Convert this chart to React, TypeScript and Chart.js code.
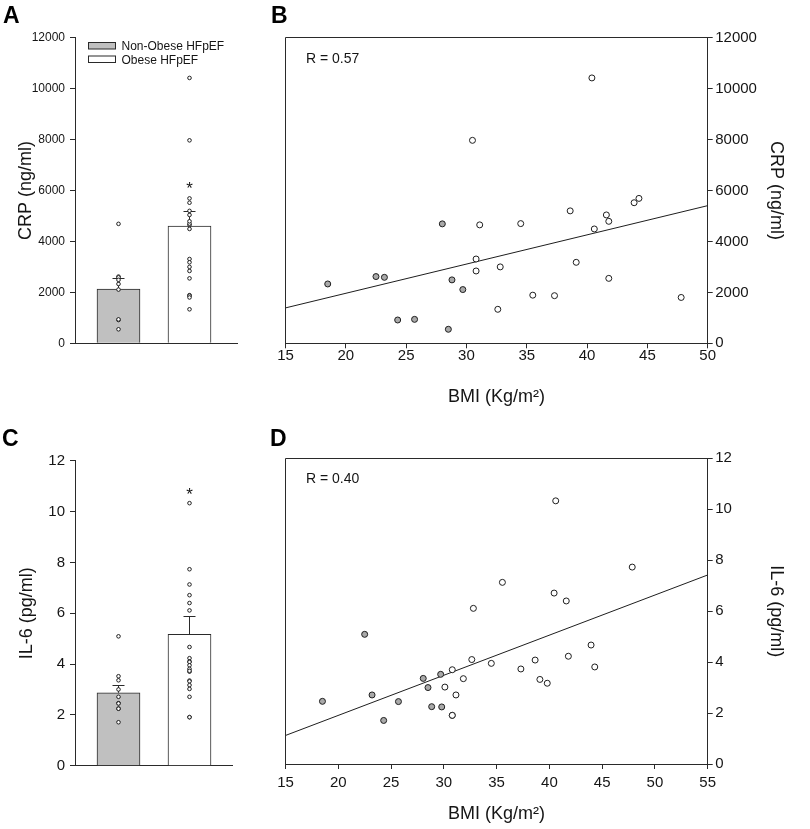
import React, { useEffect, useRef } from 'react';
import { Chart, registerables } from 'chart.js';

Chart.register(...registerables);

const PAGE_W = 810;
const PAGE_H = 829;
const FONT = "'Liberation Sans', Arial, Helvetica, sans-serif";
const INK = '#2a2a2a';
const TEXT = '#151515';

// ---------------- data ----------------
const groupNames = ['Non-Obese HFpEF', 'Obese HFpEF'];
const groupFills = ['#c0c0c0', '#ffffff'];
const pointGray = '#a9a9a9';

const crpTickValues = [0, 2000, 4000, 6000, 8000, 10000, 12000];
const il6TickValues = [0, 2, 4, 6, 8, 10, 12];
const bmiTicksCrp = [15, 20, 25, 30, 35, 40, 45, 50];
const bmiTicksIl6 = [15, 20, 25, 30, 35, 40, 45, 50, 55];

const crpMean = [2130, 4600];
const crpSemTop = [2570, 5200];
const crpStar = 6250;

const il6Mean = [2.87, 5.17];
const il6SemTop = [3.17, 5.9];
const il6Star = 10.85;

// Panel B (and dots in panel A)
const bmiCrpNonObese = [18.5, 22.5, 23.2, 24.3, 25.7, 28.0, 28.5, 28.8, 29.7];
const crpNonObese = [2330, 2620, 2590, 915, 940, 4690, 550, 2490, 2110];
const bmiCrpObese = [30.5, 30.8, 30.8, 31.1, 32.6, 32.8, 34.5, 35.5, 37.3, 38.6, 39.1, 40.4, 40.6, 41.6, 41.8, 41.8, 43.9, 44.3, 47.8];
const crpObese = [7970, 3310, 2840, 4650, 1335, 3000, 4700, 1890, 1870, 5200, 3180, 10420, 4490, 5040, 4790, 2550, 5520, 5690, 1800];

// Panel D (and dots in panel C)
const bmiIl6NonObese = [18.5, 22.5, 23.2, 24.3, 25.7, 28.05, 28.5, 28.85, 29.7, 29.8];
const il6NonObese = [2.46, 5.09, 2.71, 1.71, 2.45, 3.36, 3.0, 2.25, 3.52, 2.24];
const bmiIl6Obese = [40.6, 47.85, 35.55, 40.45, 41.6, 32.8, 43.95, 41.8, 32.65, 38.65, 34.5, 44.3, 30.8, 37.3, 31.85, 39.1, 39.8, 30.1, 31.15, 30.8, 30.8];
const il6Obese = [10.33, 7.73, 7.13, 6.71, 6.4, 6.11, 4.67, 4.23, 4.1, 4.08, 3.95, 3.81, 3.7, 3.73, 3.35, 3.32, 3.17, 3.02, 2.71, 1.91, 1.91];

const crpFitBmi = [15, 50];
const crpFitValue = [1390, 5405];
const il6FitBmi = [15, 55];
const il6FitValue = [1.12, 7.42];

const crpR = 'R = 0.57';
const il6R = 'R = 0.40';

// ---------------- helpers ----------------
type Area = { left: number; right: number; top: number; bottom: number };

const plainTick = (v: any) => String(v);

function drawLetter(ctx: CanvasRenderingContext2D, letter: string, x: number, y: number) {
  ctx.save();
  ctx.fillStyle = '#000';
  ctx.font = `bold 23px ${FONT}`;
  ctx.textAlign = 'left';
  ctx.textBaseline = 'alphabetic';
  ctx.fillText(letter, x, y);
  ctx.restore();
}

function barConfig(o: {
  area: Area;
  means: number[];
  semTop: number[];
  gray: number[];
  white: number[];
  ticks: number[];
  title: string;
  tickSize: number;
  titleCenterX: number;
  star: number;
  letter: string;
  letterPos: [number, number];
  legend: boolean;
}): any {
  const { area } = o;
  const barW = 43;
  const unit = 71;
  const xMin = -(43.5 / unit);
  const xMax = 1 + (area.right - area.left - 43.5 - unit) / unit;
  const yAxisW = area.left;
  const xAxisH = 10;
  const dots = [
    ...o.gray.map((v) => ({ x: 0, y: v })),
    ...o.white.map((v) => ({ x: 1, y: v })),
  ];
  const plugin = {
    id: 'decor',
    beforeDatasetsDraw(chart: any) {
      const ctx = chart.ctx as CanvasRenderingContext2D;
      const xs = chart.scales.x;
      const ys = chart.scales.y;
      ctx.save();
      ctx.strokeStyle = INK;
      ctx.lineWidth = 1;
      o.means.forEach((m, i) => {
        const cx = Math.floor(xs.getPixelForValue(i)) + 0.5;
        const y0 = ys.getPixelForValue(m);
        const y1 = Math.round(ys.getPixelForValue(o.semTop[i])) + 0.5;
        ctx.beginPath();
        ctx.moveTo(cx, y0);
        ctx.lineTo(cx, y1);
        ctx.moveTo(cx - 6, y1);
        ctx.lineTo(cx + 6, y1);
        ctx.stroke();
      });
      ctx.restore();
    },
    afterDraw(chart: any) {
      const ctx = chart.ctx as CanvasRenderingContext2D;
      const xs = chart.scales.x;
      const ys = chart.scales.y;
      const ca = chart.chartArea;
      ctx.save();
      ctx.fillStyle = TEXT;
      ctx.font = `17px ${FONT}`;
      ctx.textAlign = 'center';
      ctx.textBaseline = 'alphabetic';
      ctx.fillText('*', xs.getPixelForValue(1), ys.getPixelForValue(o.star) + 0.58 * 17);
      ctx.restore();
      if (o.legend) {
        ctx.save();
        const bx = Math.round(ca.left + 12.5) + 0.5;
        const rows = [42.5, 56];
        rows.forEach((ry, i) => {
          ctx.fillStyle = groupFills[i];
          ctx.fillRect(bx, ry, 27, 6.5);
          ctx.strokeStyle = INK;
          ctx.lineWidth = 1;
          ctx.strokeRect(bx, ry, 27, 6.5);
          ctx.fillStyle = TEXT;
          ctx.font = `12px ${FONT}`;
          ctx.textAlign = 'left';
          ctx.textBaseline = 'alphabetic';
          ctx.fillText(groupNames[i], bx + 33, ry + 3.3 + 4.3);
        });
        ctx.restore();
      }
      drawLetter(ctx, o.letter, o.letterPos[0], o.letterPos[1]);
    },
  };
  return {
    type: 'bar',
    data: {
      datasets: [
        {
          type: 'scatter',
          data: dots,
          pointRadius: 1.8,
          pointBackgroundColor: '#ffffff',
          pointBorderColor: '#1e1e1e',
          pointBorderWidth: 1,
          order: 0,
        },
        {
          type: 'bar',
          data: o.means.map((m, i) => ({ x: i, y: m })),
          backgroundColor: groupFills,
          borderColor: INK,
          borderWidth: 1,
          barThickness: barW,
          order: 1,
        },
      ],
    },
    options: {
      responsive: false,
      animation: false,
      events: [],
      layout: {
        autoPadding: false,
        padding: {
          left: area.left - yAxisW,
          top: area.top,
          right: PAGE_W - area.right,
          bottom: PAGE_H - area.bottom - xAxisH,
        },
      },
      plugins: { legend: { display: false }, tooltip: { enabled: false } },
      scales: {
        x: {
          type: 'linear',
          min: xMin,
          max: xMax,
          offset: false,
          ticks: { display: false },
          grid: { display: false },
          border: { display: true, color: INK, width: 1 },
          afterFit: (s: any) => {
            s.height = xAxisH;
            s.paddingLeft = 0;
            s.paddingRight = 0;
          },
        },
        y: {
          type: 'linear',
          min: o.ticks[0],
          max: o.ticks[o.ticks.length - 1],
          ticks: {
            stepSize: o.ticks[1] - o.ticks[0],
            callback: plainTick,
            color: TEXT,
            padding: 5,
            font: { family: FONT, size: o.tickSize },
          },
          grid: { display: true, drawOnChartArea: false, drawTicks: true, tickLength: 5, color: INK },
          border: { display: true, color: INK, width: 1 },
          title: {
            display: true,
            text: o.title,
            color: TEXT,
            font: { family: FONT, size: 18 },
            padding: { top: o.titleCenterX - (area.left - yAxisW) - 10.8, bottom: 0 },
          },
          afterFit: (s: any) => {
            s.width = yAxisW;
            s.paddingTop = 0;
            s.paddingBottom = 0;
          },
        },
      },
    },
    plugins: [plugin],
  };
}

function scatterConfig(o: {
  area: Area;
  xTicks: number[];
  yTicks: number[];
  grayX: number[];
  grayY: number[];
  whiteX: number[];
  whiteY: number[];
  fitX: number[];
  fitY: number[];
  yTitle: string;
  rText: string;
  xTickPad: number;
  xTitleMid: number;
  xAxisBottom: number;
  yTitleCenterX: number;
  letter: string;
  letterPos: [number, number];
}): any {
  const { area } = o;
  const yAxisW = PAGE_W - area.right;
  const xAxisH = o.xAxisBottom - area.bottom;
  const plugin = {
    id: 'decor',
    afterDraw(chart: any) {
      const ctx = chart.ctx as CanvasRenderingContext2D;
      const ca = chart.chartArea;
      ctx.save();
      ctx.strokeStyle = INK;
      ctx.lineWidth = 1;
      const l = Math.round(ca.left - 0.5) + 0.5;
      const t = Math.round(ca.top - 0.5) + 0.5;
      const r = Math.round(ca.right - 0.5) + 0.5;
      const b = Math.round(ca.bottom - 0.5) + 0.5;
      ctx.beginPath();
      ctx.moveTo(l, b);
      ctx.lineTo(l, t);
      ctx.lineTo(r, t);
      ctx.stroke();
      ctx.fillStyle = TEXT;
      ctx.font = `14px ${FONT}`;
      ctx.textAlign = 'left';
      ctx.textBaseline = 'middle';
      ctx.fillText(o.rText, ca.left + 20.5, ca.top + 21);
      ctx.restore();
      drawLetter(ctx, o.letter, o.letterPos[0], o.letterPos[1]);
    },
  };
  const pointStyle = {
    pointRadius: 3,
    pointBorderWidth: 1,
    pointBorderColor: '#1e1e1e',
    showLine: false,
  };
  return {
    type: 'scatter',
    data: {
      datasets: [
        {
          type: 'line',
          data: o.fitX.map((x, i) => ({ x, y: o.fitY[i] })),
          borderColor: '#1e1e1e',
          borderWidth: 1,
          pointRadius: 0,
          fill: false,
          order: 2,
        },
        {
          type: 'scatter',
          data: o.grayX.map((x, i) => ({ x, y: o.grayY[i] })),
          pointBackgroundColor: pointGray,
          ...pointStyle,
          order: 1,
        },
        {
          type: 'scatter',
          data: o.whiteX.map((x, i) => ({ x, y: o.whiteY[i] })),
          pointBackgroundColor: '#ffffff',
          ...pointStyle,
          order: 0,
        },
      ],
    },
    options: {
      responsive: false,
      animation: false,
      events: [],
      layout: {
        autoPadding: false,
        padding: {
          left: area.left,
          top: area.top,
          right: PAGE_W - area.right - yAxisW,
          bottom: PAGE_H - o.xAxisBottom,
        },
      },
      plugins: { legend: { display: false }, tooltip: { enabled: false } },
      scales: {
        x: {
          type: 'linear',
          position: 'bottom',
          min: o.xTicks[0],
          max: o.xTicks[o.xTicks.length - 1],
          ticks: {
            stepSize: o.xTicks[1] - o.xTicks[0],
            callback: plainTick,
            color: TEXT,
            padding: o.xTickPad,
            autoSkip: false,
            maxRotation: 0,
            font: { family: FONT, size: 15 },
          },
          grid: { display: true, drawOnChartArea: false, drawTicks: true, tickLength: 5, color: INK },
          border: { display: true, color: INK, width: 1 },
          title: {
            display: true,
            text: 'BMI (Kg/m²)',
            color: TEXT,
            font: { family: FONT, size: 18 },
            padding: { top: 0, bottom: o.xAxisBottom - 10.8 - o.xTitleMid },
          },
          afterFit: (s: any) => {
            s.height = xAxisH;
            s.paddingLeft = 0;
            s.paddingRight = 0;
          },
        },
        y: {
          type: 'linear',
          position: 'right',
          min: o.yTicks[0],
          max: o.yTicks[o.yTicks.length - 1],
          ticks: {
            stepSize: o.yTicks[1] - o.yTicks[0],
            callback: plainTick,
            color: TEXT,
            padding: 2.5,
            font: { family: FONT, size: 15 },
          },
          grid: { display: true, drawOnChartArea: false, drawTicks: true, tickLength: 5, color: INK },
          border: { display: true, color: INK, width: 1 },
          title: {
            display: true,
            text: o.yTitle,
            color: TEXT,
            font: { family: FONT, size: 18 },
            padding: { top: PAGE_W - o.yTitleCenterX - 10.8, bottom: 0 },
          },
          afterFit: (s: any) => {
            s.width = yAxisW;
            s.paddingTop = 0;
            s.paddingBottom = 0;
          },
        },
      },
    },
    plugins: [plugin],
  };
}

export default function App() {
  const refA = useRef<HTMLCanvasElement>(null);
  const refB = useRef<HTMLCanvasElement>(null);
  const refC = useRef<HTMLCanvasElement>(null);
  const refD = useRef<HTMLCanvasElement>(null);

  useEffect(() => {
    const charts: Chart[] = [];
    charts.push(
      new Chart(
        refA.current as HTMLCanvasElement,
        barConfig({
          area: { left: 75, right: 237, top: 37.7, bottom: 343.3 },
          means: crpMean,
          semTop: crpSemTop,
          gray: crpNonObese,
          white: crpObese,
          ticks: crpTickValues,
          title: 'CRP (ng/ml)',
          tickSize: 12,
          titleCenterX: 26,
          star: crpStar,
          letter: 'A',
          letterPos: [3, 23],
          legend: true,
        })
      )
    );
    charts.push(
      new Chart(
        refB.current as HTMLCanvasElement,
        scatterConfig({
          area: { left: 285.5, right: 707.7, top: 37.7, bottom: 343.3 },
          xTicks: bmiTicksCrp,
          yTicks: crpTickValues,
          grayX: bmiCrpNonObese,
          grayY: crpNonObese,
          whiteX: bmiCrpObese,
          whiteY: crpObese,
          fitX: crpFitBmi,
          fitY: crpFitValue,
          yTitle: 'CRP (ng/ml)',
          rText: crpR,
          xTickPad: -1.3,
          xTitleMid: 397,
          xAxisBottom: 412,
          yTitleCenterX: 776,
          letter: 'B',
          letterPos: [271, 23],
        })
      )
    );
    charts.push(
      new Chart(
        refC.current as HTMLCanvasElement,
        barConfig({
          area: { left: 75, right: 232, top: 460.7, bottom: 765.7 },
          means: il6Mean,
          semTop: il6SemTop,
          gray: il6NonObese,
          white: il6Obese,
          ticks: il6TickValues,
          title: 'IL-6 (pg/ml)',
          tickSize: 15,
          titleCenterX: 27.5,
          star: il6Star,
          letter: 'C',
          letterPos: [2, 446],
          legend: false,
        })
      )
    );
    charts.push(
      new Chart(
        refD.current as HTMLCanvasElement,
        scatterConfig({
          area: { left: 285.5, right: 707.7, top: 458.3, bottom: 764 },
          xTicks: bmiTicksIl6,
          yTicks: il6TickValues,
          grayX: bmiIl6NonObese,
          grayY: il6NonObese,
          whiteX: bmiIl6Obese,
          whiteY: il6Obese,
          fitX: il6FitBmi,
          fitY: il6FitValue,
          yTitle: 'IL-6 (pg/ml)',
          rText: il6R,
          xTickPad: 5,
          xTitleMid: 814,
          xAxisBottom: 829,
          yTitleCenterX: 776,
          letter: 'D',
          letterPos: [270, 446],
        })
      )
    );
    return () => charts.forEach((c) => c.destroy());
  }, []);

  const canvasStyle: React.CSSProperties = { position: 'absolute', left: 0, top: 0 };
  return (
    <div
      style={{
        position: 'absolute',
        left: 0,
        top: 0,
        width: PAGE_W,
        height: PAGE_H,
        background: '#ffffff',
        overflow: 'hidden',
      }}
    >
      <canvas ref={refA} width={PAGE_W} height={PAGE_H} style={canvasStyle} />
      <canvas ref={refB} width={PAGE_W} height={PAGE_H} style={canvasStyle} />
      <canvas ref={refC} width={PAGE_W} height={PAGE_H} style={canvasStyle} />
      <canvas ref={refD} width={PAGE_W} height={PAGE_H} style={canvasStyle} />
    </div>
  );
}
